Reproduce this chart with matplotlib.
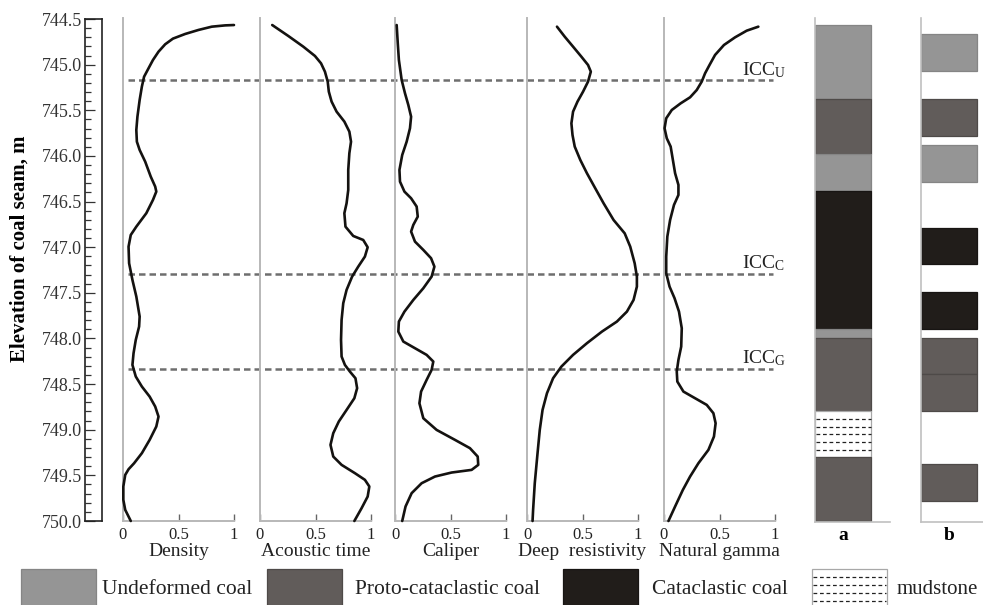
import numpy as np
import matplotlib
matplotlib.use('Agg')
import matplotlib.pyplot as plt
from matplotlib.patches import Rectangle
from matplotlib.ticker import MultipleLocator, FormatStrFormatter

plt.rcParams['font.family'] = ['Liberation Serif', 'DejaVu Serif']
plt.rcParams['mathtext.fontset'] = 'stix'

# --- log curves (normalised value 0..1 against elevation in m) ---
density_elev = [744.566, 744.57, 744.584, 744.62, 744.664, 744.715, 744.777, 744.858, 744.949, 745.040,
                745.132, 745.241, 745.387, 745.570, 745.716, 745.844, 745.935, 746.063, 746.227, 746.336,
                746.391, 746.482, 746.628, 746.775, 746.866, 746.994, 747.176, 747.359, 747.541, 747.760,
                747.870, 748.016, 748.162, 748.290, 748.417, 748.527, 748.637, 748.746, 748.856, 748.965,
                749.111, 749.257, 749.367, 749.433, 749.495, 749.622, 749.768, 749.878, 749.951, 750.0]
density_val = [1.0, 0.92, 0.80, 0.68, 0.56, 0.45, 0.38, 0.32, 0.27, 0.23,
               0.19, 0.17, 0.15, 0.13, 0.12, 0.125, 0.15, 0.20, 0.25, 0.29,
               0.30, 0.27, 0.21, 0.12, 0.07, 0.05, 0.055, 0.085, 0.12, 0.15,
               0.145, 0.115, 0.095, 0.085, 0.115, 0.17, 0.24, 0.29, 0.32, 0.30,
               0.24, 0.17, 0.10, 0.05, 0.02, 0.003, 0.003, 0.02, 0.05, 0.07]

acoustic_elev = [744.566, 744.686, 744.803, 744.905, 744.986, 745.077, 745.186, 745.296, 745.405, 745.515,
                 745.624, 745.734, 745.844, 745.971, 746.154, 746.373, 746.519, 746.628, 746.775, 746.877,
                 746.921, 747.001, 747.103, 747.213, 747.322, 747.468, 747.614, 747.797, 748.016, 748.198,
                 748.290, 748.363, 748.436, 748.545, 748.655, 748.783, 748.910, 749.038, 749.166, 749.294,
                 749.385, 749.476, 749.549, 749.622, 749.732, 749.860, 750.0]
acoustic_val = [0.11, 0.255, 0.39, 0.495, 0.55, 0.585, 0.61, 0.62, 0.645, 0.69,
                0.76, 0.805, 0.82, 0.805, 0.795, 0.795, 0.78, 0.76, 0.77, 0.84,
                0.93, 0.97, 0.945, 0.885, 0.83, 0.78, 0.75, 0.735, 0.73, 0.735,
                0.765, 0.81, 0.86, 0.875, 0.85, 0.78, 0.71, 0.66, 0.635, 0.66,
                0.735, 0.855, 0.945, 0.985, 0.97, 0.915, 0.85]

caliper_elev = [744.566, 744.767, 744.949, 745.168, 745.314, 745.442, 745.570, 745.697, 745.844, 745.990,
                746.154, 746.282, 746.391, 746.464, 746.555, 746.665, 746.756, 746.829, 746.939, 747.030,
                747.121, 747.213, 747.322, 747.450, 747.578, 747.706, 747.815, 747.925, 748.034, 748.107,
                748.180, 748.253, 748.344, 748.454, 748.582, 748.710, 748.874, 749.002, 749.111, 749.202,
                749.294, 749.385, 749.440, 749.469, 749.513, 749.586, 749.695, 749.841, 750.0]
caliper_val = [0.015, 0.025, 0.035, 0.06, 0.09, 0.12, 0.145, 0.135, 0.105, 0.065,
               0.04, 0.045, 0.085, 0.145, 0.195, 0.205, 0.165, 0.145, 0.18, 0.255,
               0.325, 0.355, 0.33, 0.255, 0.165, 0.085, 0.035, 0.03, 0.075, 0.18,
               0.285, 0.345, 0.33, 0.285, 0.235, 0.22, 0.255, 0.375, 0.54, 0.675,
               0.745, 0.75, 0.69, 0.51, 0.36, 0.24, 0.15, 0.095, 0.065]

resist_elev = [744.584, 744.694, 744.803, 744.913, 745.004, 745.077, 745.186, 745.296, 745.405, 745.515,
               745.643, 745.771, 745.898, 746.044, 746.190, 746.355, 746.519, 746.702, 746.848, 746.994,
               747.176, 747.322, 747.432, 747.578, 747.706, 747.815, 747.925, 748.052, 748.180, 748.308,
               748.436, 748.600, 748.783, 749.002, 749.257, 749.586, 749.878, 750.0]
resist_val = [0.27, 0.34, 0.415, 0.49, 0.55, 0.575, 0.55, 0.505, 0.455, 0.415,
              0.40, 0.41, 0.43, 0.48, 0.54, 0.615, 0.69, 0.78, 0.88, 0.93,
              0.97, 0.99, 0.99, 0.96, 0.90, 0.81, 0.675, 0.54, 0.415, 0.31,
              0.235, 0.18, 0.14, 0.115, 0.095, 0.07, 0.055, 0.05]

gamma_elev = [744.584, 744.628, 744.701, 744.785, 744.894, 745.004, 745.095, 745.186, 745.278, 745.358,
              745.424, 745.497, 745.588, 745.697, 745.807, 745.898, 746.044, 746.190, 746.318, 746.428,
              746.537, 746.702, 746.884, 747.103, 747.286, 747.432, 747.559, 747.706, 747.888, 748.089,
              748.235, 748.363, 748.472, 748.582, 748.655, 748.728, 748.819, 748.929, 749.075, 749.221,
              749.367, 749.513, 749.659, 749.841, 750.0]
gamma_val = [0.85, 0.745, 0.64, 0.54, 0.46, 0.41, 0.37, 0.34, 0.295, 0.235,
             0.15, 0.07, 0.02, 0.005, 0.025, 0.06, 0.08, 0.10, 0.13, 0.13,
             0.09, 0.055, 0.03, 0.02, 0.02, 0.05, 0.095, 0.135, 0.16, 0.155,
             0.13, 0.115, 0.12, 0.175, 0.28, 0.385, 0.445, 0.465, 0.45, 0.40,
             0.31, 0.235, 0.17, 0.10, 0.04]

track_names = ['Density', 'Acoustic time', 'Caliper', 'Deep  resistivity', 'Natural gamma']
track_elevs = [density_elev, acoustic_elev, caliper_elev, resist_elev, gamma_elev]
track_vals = [density_val, acoustic_val, caliper_val, resist_val, gamma_val]

# interface levels
icc_elev = [745.17, 747.29, 748.33]
icc_sub = ['U', 'C', 'G']

# coal structure columns
col_a_top = [744.57, 745.38, 745.98, 746.38, 747.90, 747.99, 748.80, 749.30]
col_a_bot = [745.38, 745.98, 746.38, 747.90, 747.99, 748.80, 749.30, 750.0]
col_a_type = ['U', 'P', 'U', 'C', 'U', 'P', 'M', 'P']

col_b_top = [744.66, 745.38, 745.88, 746.79, 747.49, 747.99, 748.39, 749.38]
col_b_bot = [745.07, 745.78, 746.29, 747.18, 747.90, 748.39, 748.79, 749.78]
col_b_type = ['U', 'P', 'U', 'C', 'C', 'P', 'P', 'P']

legend_names = ['Undeformed coal', 'Proto-cataclastic coal', 'Cataclastic coal', 'mudstone']
legend_types = ['U', 'P', 'C', 'M']

fill = {'U': '#959595', 'P': '#615c5a', 'C': '#211d1a', 'M': 'white'}
edge = {'U': '#858585', 'P': '#4e4a48', 'C': '#181513', 'M': '#a8a8a8'}

W, H = 983, 605
TOP, BOT = 19, 521
fig = plt.figure(figsize=(W / 100, H / 100), dpi=100)


def px_axes(x0, y0, x1, y1):
    return fig.add_axes([x0 / W, 1 - y1 / H, (x1 - x0) / W, (y1 - y0) / H])


def mud_dashes(ax, x0, x1, top, bot, n):
    for y in np.linspace(top, bot, n + 2)[1:-1]:
        ax.plot([x0, x1], [y, y], color='#222', lw=0.9, dashes=(3, 2.2))


# depth scale
ax = px_axes(85, TOP, 102, BOT)
ax.set_ylim(750.0, 744.5)
ax.set_xticks([])
ax.yaxis.set_major_locator(MultipleLocator(0.5))
ax.yaxis.set_minor_locator(MultipleLocator(0.1))
ax.yaxis.set_major_formatter(FormatStrFormatter('%.1f'))
ax.tick_params(axis='y', which='major', direction='in', length=7.5, width=0.9,
               labelsize=13, pad=2, colors='#333')
ax.tick_params(axis='y', which='minor', direction='in', length=4.3, width=0.9, color='#333')
for s in ax.spines.values():
    s.set_linewidth(1.2)
    s.set_color('#222')
fig.text(20 / W, 1 - 249 / H, 'Elevation of coal seam, m', rotation=90,
         fontsize=15, fontweight='bold', ha='center', va='center')

# dashed interface lines
ov = px_axes(123, TOP, 790, BOT)
ov.set_xlim(123, 790)
ov.set_ylim(750.0, 744.5)
ov.axis('off')
ov.hlines(icc_elev, 128, 773, colors='#6e6e6e', linestyles=(0, (2.6, 1.6)), lw=1.8)
for e, s in zip(icc_elev, icc_sub):
    ov.text(742, e - 0.055, r'ICC$_{\mathregular{%s}}$' % s, fontsize=14, ha='left',
            va='baseline', color='#222')

# log tracks
for left, name, el, val in zip([123, 260, 395, 527, 664], track_names, track_elevs, track_vals):
    ax = px_axes(left, TOP - 1, left + 111, BOT)
    ax.patch.set_visible(False)
    ax.set_xlim(0, 1)
    ax.set_ylim(750.0, 744.5 - 1 / 91.3)
    ax.plot(val, el, color='#141210', lw=1.9, clip_on=False, zorder=3,
            solid_joinstyle='round', solid_capstyle='round')
    ax.spines['top'].set_visible(False)
    ax.spines['right'].set_visible(False)
    ax.spines['left'].set_color('#b8b8b8')
    ax.spines['bottom'].set_color('#b8b8b8')
    ax.spines['left'].set_linewidth(1.4)
    ax.spines['bottom'].set_linewidth(1.4)
    ax.set_yticks([])
    ax.set_xticks([0, 0.5, 1])
    ax.set_xticklabels(['0', '0.5', '1'])
    ax.tick_params(axis='x', direction='in', length=5, width=1, color='#666',
                   labelsize=12, pad=4, labelcolor='#222')
    ax.set_xlabel(name, fontsize=14, labelpad=0, color='#222')

# structure columns
for left, tops, bots, types, lab in [(815, col_a_top, col_a_bot, col_a_type, 'a'),
                                     (921, col_b_top, col_b_bot, col_b_type, 'b')]:
    ax = px_axes(left, TOP - 1, left + 75, BOT + 1)
    ax.patch.set_visible(False)
    ax.set_xlim(0, 75)
    ax.set_ylim(750.0 + 1 / 91.3, 744.5 - 1 / 91.3)
    for t, b, k in zip(tops, bots, types):
        ax.bar(0, b - t, bottom=t, width=56, align='edge', color=fill[k],
               edgecolor=edge[k], lw=0.9)
        if k == 'M':
            mud_dashes(ax, 0.5, 55.5, t, b, 5)
    ax.spines['top'].set_visible(False)
    ax.spines['right'].set_visible(False)
    ax.spines['left'].set_color('#c0c0c0')
    ax.spines['bottom'].set_color('#c0c0c0')
    ax.spines['left'].set_linewidth(1.2)
    ax.spines['bottom'].set_linewidth(1.2)
    ax.set_xticks([])
    ax.set_yticks([])
    fig.text((left + 28) / W, 1 - 535 / H, lab, fontsize=14, fontweight='bold',
             ha='center', va='center')

# legend row
lg = fig.add_axes([0, 0, 1, 1])
lg.set_xlim(0, W)
lg.set_ylim(H, 0)
lg.axis('off')
lg.patch.set_visible(False)
for x, tx, k, name in zip([21, 267, 563, 812], [102, 355, 652, 897], legend_types, legend_names):
    lg.add_patch(Rectangle((x, 569), 75, 42, facecolor=fill[k], edgecolor=edge[k], lw=0.9))
    if k == 'M':
        mud_dashes(lg, x + 1, x + 74, 569, 609, 4)
    lg.text(tx, 589, name, fontsize=15.5 if k != 'M' else 15, ha='left', va='center',
            color='#222')

fig.savefig('out.png', dpi=100)
